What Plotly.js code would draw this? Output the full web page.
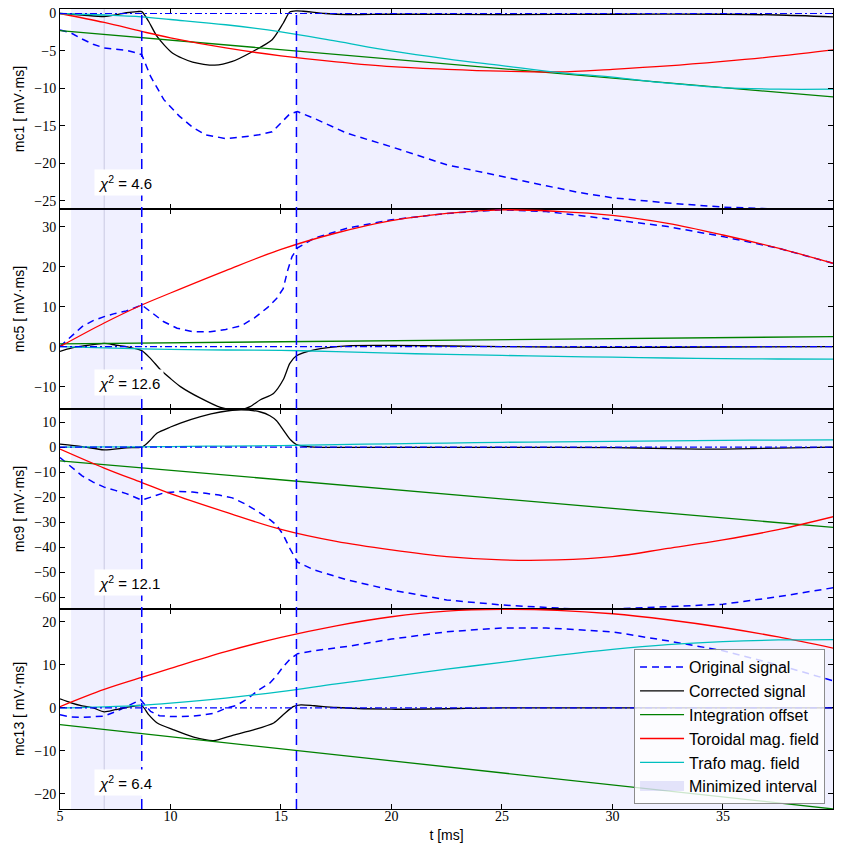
<!DOCTYPE html>
<html><head><meta charset="utf-8">
<script src="https://cdn.plot.ly/plotly-3.0.1.min.js"></script>
<style>html,body{margin:0;padding:0;background:#fff}</style>
</head><body><div id="chart" style="width:844px;height:854px"></div>
<script>
// ---------- data ----------
const channels = ['mc1', 'mc5', 'mc9', 'mc13'];
const chi2 = [4.6, 12.6, 12.1, 6.4];
const intervals = [[5.5, 8.7], [15.7, 40]];
const cutTimes = [8.7, 15.7];
const refTime = 7;
const seriesNames = ['Original signal', 'Corrected signal', 'Integration offset', 'Toroidal mag. field', 'Trafo mag. field'];
const intervalName = 'Minimized interval';

const tSmooth = [5, 7, 8.7, 10, 12.5, 15, 17.5, 20, 22.5, 25, 27.5, 30, 32.5, 35, 37.5, 40];
const tOffset = [5, 40];

// mc1
const mc1_orig_t = [5, 5.5, 6, 6.5, 7, 7.5, 8, 8.5, 8.7, 9.1, 9.7, 10.4, 11, 11.6, 12.5, 13.2, 14, 14.6, 15, 15.4, 15.75, 16.5, 18, 20, 22.5, 25, 27, 28.5, 30, 32.5, 35, 37.5, 40];
const mc1_orig = [-2.2, -2.6, -3.4, -4.1, -4.6, -4.7, -4.9, -5.3, -5.5, -8.4, -11.5, -13.7, -15.2, -16.2, -16.7, -16.5, -16.2, -15.8, -14.6, -13.4, -13.1, -14.0, -16.0, -17.8, -20.2, -21.8, -23.0, -23.9, -24.6, -25.3, -25.85, -26.1, -26.4];
const mc1_corr_t = [5, 6, 7, 7.5, 8, 8.5, 8.7, 9, 9.4, 10.1, 11, 12, 12.8, 13.7, 14.6, 15.1, 15.4, 15.7, 16, 17, 18, 20, 25, 30, 35, 37.5, 40];
const mc1_corr = [0, -0.2, -0.4, -0.2, 0.1, 0.25, 0.25, -1.0, -3.1, -5.3, -6.5, -6.9, -6.4, -5.1, -3.5, -1.3, 0.2, 0.35, 0.3, 0.0, -0.15, -0.1, -0.15, -0.1, -0.1, -0.2, -0.45];
const mc1_offset = [-2.3, -11.15];
const mc1_tor = [0, -1.2, -2.4, -3.25, -4.6, -5.65, -6.45, -7.1, -7.45, -7.7, -7.8, -7.45, -7.0, -6.4, -5.7, -4.85];
const mc1_trafo = [0, -0.2, -0.45, -0.8, -1.5, -2.45, -3.7, -5.0, -6.05, -6.95, -7.85, -8.5, -9.3, -9.9, -10.1, -10.1];

// mc5
const mc5_orig_t = [5, 5.5, 6, 6.5, 7, 7.5, 8, 8.7, 9.2, 9.7, 10.3, 11, 11.8, 12.5, 13.2, 13.8, 14.4, 14.8, 15.1, 15.3, 15.5, 15.75, 16.5, 18, 20, 22.5, 25, 27, 28.5, 30, 32.5, 35, 37.5, 40];
const mc5_orig = [0, 2.5, 5.0, 6.5, 7.5, 8.3, 8.9, 10.4, 8.2, 6.2, 4.6, 3.75, 3.7, 4.3, 5.2, 7.2, 9.8, 12, 14.5, 19, 22.5, 24.7, 27.1, 29.6, 31.7, 33.3, 34.2, 33.75, 32.8, 31.8, 30.0, 27.5, 24.6, 20.8];
const mc5_corr_t = [5, 5.5, 6, 7, 7.5, 8, 8.7, 9.1, 9.55, 10, 10.45, 11.36, 12.26, 12.8, 13.2, 13.6, 14.07, 14.66, 15.1, 15.4, 15.7, 16.5, 18, 20, 25, 30, 35, 40];
const mc5_corr = [-1.2, -0.4, 0.1, 0.8, 0.4, 0.0, -1.0, -3.0, -5.8, -8.0, -10.0, -12.9, -15.2, -15.8, -15.8, -15.0, -13.3, -11.7, -8.3, -4.2, -2.3, -0.8, 0.2, 0.3, 0.0, -0.2, -0.1, 0.0];
const mc5_offset = [0.7, 2.5];
const mc5_tor = [0, 5.9, 10.4, 13.4, 19.0, 24.3, 28.4, 31.5, 33.3, 34.2, 33.8, 32.8, 30.8, 27.9, 24.6, 20.8];
const mc5_trafo = [0, -0.3, -0.55, -0.7, -0.85, -0.95, -1.25, -1.65, -1.95, -2.2, -2.45, -2.65, -2.85, -3.0, -3.1, -3.15];

// mc9
const mc9_orig_t = [5, 5.5, 6, 6.5, 7, 7.5, 8, 8.7, 9.2, 9.7, 10.4, 11, 11.6, 12.2, 12.8, 13.4, 14, 14.5, 14.8, 15.1, 15.4, 15.75, 16.5, 18, 20, 22.5, 25, 27, 28.5, 30, 32.5, 35, 37.5, 40];
const mc9_orig = [-4.2, -7.8, -11.5, -14, -16, -17.3, -18.6, -21.2, -19.6, -18.3, -17.8, -18.0, -18.5, -19.2, -20.3, -22.8, -26.0, -29.0, -31.2, -35.0, -40.5, -46.0, -49.1, -53.1, -57.1, -61.1, -63.1, -64.2, -64.8, -64.7, -63.8, -62.8, -59.8, -56.2];
const mc9_corr_t = [5, 6, 7, 8, 8.7, 9.0, 9.4, 10, 10.45, 11.36, 12.26, 13.2, 14.07, 14.5, 14.8, 15.1, 15.43, 15.7, 16.5, 20, 25, 30, 32.5, 35, 37.5, 40];
const mc9_corr = [1.2, 0.2, -1.1, -0.3, 0.0, 2.0, 5.6, 8.0, 9.6, 12.2, 14.0, 14.9, 14.0, 12.5, 10.5, 6.9, 2.9, 1.0, 0.0, -0.1, -0.1, -0.2, -0.6, -0.8, -0.4, 0.0];
const mc9_offset = [-5.5, -32.1];
const mc9_tor = [-0.8, -8.4, -14.2, -18.6, -26.0, -32.9, -37.7, -41.1, -43.8, -45.1, -45.1, -43.8, -40.5, -37.1, -33.0, -27.8];
const mc9_trafo = [0, 0.05, 0.1, 0.2, 0.4, 0.6, 0.95, 1.3, 1.6, 1.9, 2.1, 2.3, 2.5, 2.65, 2.8, 2.9];

// mc13
const mc13_orig_t = [5, 5.5, 6, 6.5, 7, 7.5, 8, 8.4, 8.65, 8.8, 9.1, 9.5, 10, 10.5, 11, 11.5, 12, 12.5, 13, 13.5, 14, 14.5, 14.8, 15.1, 15.4, 15.75, 16.5, 18, 20, 22.5, 25, 27, 30, 32.5, 35, 37.5, 40];
const mc13_orig = [-1.6, -2.1, -2.2, -2.1, -1.9, -0.9, 0.3, 1.2, 1.9, 1.0, -0.8, -1.8, -2.0, -2.0, -1.9, -1.6, -1.2, -0.1, 0.6, 2.2, 4.2, 5.8, 7.5, 9.6, 11.3, 12.6, 13.3, 14.3, 16.0, 17.7, 18.6, 18.6, 17.7, 15.6, 13.3, 10.0, 6.3];
const mc13_corr_t = [5, 5.5, 6, 6.5, 7, 7.5, 8, 8.7, 9.0, 9.4, 10.14, 11.05, 11.95, 12.85, 13.76, 14.67, 15.1, 15.55, 15.9, 16.5, 17.5, 20, 25, 30, 35, 40];
const mc13_corr = [2.1, 1.2, 0.5, 0, -0.9, -0.4, 0.1, 0.5, -1.5, -3.5, -5.1, -6.8, -7.6, -6.3, -5.1, -3.5, -1.6, 0.3, 0.7, 0.5, 0.1, -0.3, 0.0, 0.0, 0.0, 0.0];
const mc13_offset = [-3.9, -23.5];
const mc13_tor = [0.3, 4.3, 7.1, 9.2, 13.1, 16.4, 19.1, 21.2, 22.5, 22.9, 22.7, 21.9, 20.5, 18.7, 16.5, 13.9];
const mc13_trafo = [0, 0.25, 0.6, 1.1, 2.3, 3.8, 5.6, 7.3, 9.0, 10.6, 12.2, 13.6, 14.7, 15.4, 15.8, 15.9];

const yRanges = [[-26.1, 0.6], [-15.6, 34.4], [-64.7, 15.2], [-23.5, 23.0]];
const yTickVals = [[-25, -20, -15, -10, -5, 0], [-10, 0, 10, 20, 30], [-60, -50, -40, -30, -20, -10, 0, 10], [-20, -10, 0, 10, 20]];

// ---------- build ----------
const panels = [
  {orig_t: mc1_orig_t, orig: mc1_orig, corr_t: mc1_corr_t, corr: mc1_corr, offset: mc1_offset, tor: mc1_tor, trafo: mc1_trafo},
  {orig_t: mc5_orig_t, orig: mc5_orig, corr_t: mc5_corr_t, corr: mc5_corr, offset: mc5_offset, tor: mc5_tor, trafo: mc5_trafo},
  {orig_t: mc9_orig_t, orig: mc9_orig, corr_t: mc9_corr_t, corr: mc9_corr, offset: mc9_offset, tor: mc9_tor, trafo: mc9_trafo},
  {orig_t: mc13_orig_t, orig: mc13_orig, corr_t: mc13_corr_t, corr: mc13_corr, offset: mc13_offset, tor: mc13_tor, trafo: mc13_trafo}
];

const colors = ['#0000ff', '#000000', '#008000', '#ff0000', '#00bfbf'];
const serif = 'Liberation Serif, Times New Roman, serif';
const sans = 'Liberation Sans, Arial, sans-serif';
const traces = [];
const shapes = [];
const annotations = [];
const layout = {
  width: 844, height: 854,
  margin: {l: 60, r: 11, t: 9, b: 45},
  paper_bgcolor: '#ffffff',
  plot_bgcolor: 'rgba(0,0,0,0)',
  showlegend: true,
  legend: {
    x: 0.9897, xanchor: 'right', y: 0.006, yanchor: 'bottom',
    bgcolor: 'rgba(255,255,255,0.8)', bordercolor: '#8c8c8c', borderwidth: 1,
    font: {family: sans, size: 16, color: '#000'},
    traceorder: 'grouped', tracegroupgap: 0, itemwidth: 44
  },
  shapes: shapes, annotations: annotations,
  font: {family: sans, color: '#000'}
};

const domains = [[0.75, 1], [0.5, 0.75], [0.25, 0.5], [0, 0.25]];
panels.forEach((p, k) => {
  const xa = k === 0 ? 'x' : 'x' + (k + 1);
  const ya = k === 0 ? 'y' : 'y' + (k + 1);
  const xKey = k === 0 ? 'xaxis' : 'xaxis' + (k + 1);
  const yKey = k === 0 ? 'yaxis' : 'yaxis' + (k + 1);
  const show = k === 0;
  const common = {xaxis: xa, yaxis: ya, mode: 'lines', hoverinfo: 'skip'};

  // minimized interval shading (drawn first, below the lines)
  const sx = [], sy = [];
  intervals.forEach((iv, i) => {
    if (i > 0) { sx.push(null); sy.push(null); }
    sx.push(iv[0], iv[1], iv[1], iv[0], iv[0]);
    sy.push(yRanges[k][0], yRanges[k][0], yRanges[k][1], yRanges[k][1], yRanges[k][0]);
  });
  traces.push(Object.assign({x: sx, y: sy, name: intervalName, legendgroup: 'g5', showlegend: false,
    fill: 'toself', fillcolor: 'rgba(0,0,255,0.06)', line: {width: 0, color: 'rgba(0,0,0,0)'}}, common));

  traces.push(Object.assign({x: p.orig_t, y: p.orig, name: seriesNames[0], legendgroup: 'g0', legendrank: 1, showlegend: show,
    line: {color: colors[0], width: 1.5, dash: '7px,5px'}}, common));
  traces.push(Object.assign({x: p.corr_t, y: p.corr, name: seriesNames[1], legendgroup: 'g1', legendrank: 2, showlegend: show,
    line: {color: colors[1], width: 1.3, shape: 'spline', smoothing: 0.7}}, common));
  traces.push(Object.assign({x: tOffset, y: p.offset, name: seriesNames[2], legendgroup: 'g2', legendrank: 3, showlegend: show,
    line: {color: colors[2], width: 1.3}}, common));
  traces.push(Object.assign({x: tSmooth, y: p.tor, name: seriesNames[3], legendgroup: 'g3', legendrank: 4, showlegend: show,
    line: {color: colors[3], width: 1.3, shape: 'spline'}}, common));
  traces.push(Object.assign({x: tSmooth, y: p.trafo, name: seriesNames[4], legendgroup: 'g4', legendrank: 5, showlegend: show,
    line: {color: colors[4], width: 1.3, shape: 'spline'}}, common));

  layout[xKey] = {
    domain: [0, 1], anchor: ya, range: [5, 39.98],
    tickvals: [5, 10, 15, 20, 25, 30, 35], ticks: 'inside', ticklen: 5, tickcolor: '#000',
    showline: true, linecolor: '#000', linewidth: 1, mirror: 'allticks',
    showgrid: false, zeroline: false, showticklabels: k === 3,
    tickfont: {family: serif, size: 14, color: '#000'}
  };
  if (k !== 3) layout[xKey].matches = 'x4';
  if (k === 3) {
    layout[xKey].ticklabelstandoff = -6;
    layout[xKey].title = {text: 't [ms]', standoff: 7, font: {family: sans, size: 14, color: '#000'}};
  }
  layout[yKey] = {
    domain: domains[k], anchor: xa, range: yRanges[k], tickvals: yTickVals[k],
    ticks: 'inside', ticklen: 5, tickcolor: '#000',
    showline: true, linecolor: '#000', linewidth: 1, mirror: 'allticks',
    showgrid: false, zeroline: false, automargin: false,
    tickfont: {family: serif, size: 14, color: '#000'},
    title: {text: channels[k] + ' [ mV·ms]', standoff: 6, font: {family: sans, size: 14, color: '#000'}}
  };

  // zero reference line
  shapes.push({type: 'line', xref: xa + ' domain', x0: 0, x1: 1, yref: ya, y0: 0, y1: 0,
    line: {color: '#0000ff', width: 1.2, dash: '7px,3px,2px,3px'}, layer: 'above'});

  annotations.push({xref: xa, x: 6.55, xanchor: 'left', yref: ya + ' domain', y: 0.135, yanchor: 'middle',
    text: '<i>χ</i><sup>2</sup> = ' + chi2[k].toFixed(1), showarrow: false, bgcolor: '#ffffff', borderpad: 3,
    font: {family: sans, size: 15, color: '#000'}});
});

// legend entry for the minimized interval (patch-like icon)
traces.push({x: [null], y: [null], xaxis: 'x4', yaxis: 'y4', mode: 'lines', hoverinfo: 'skip',
  name: intervalName, legendgroup: 'g5', legendrank: 6, showlegend: true,
  line: {color: 'rgba(60,60,220,0.13)', width: 12}});

// reference time line
shapes.push({type: 'line', xref: 'x4', x0: refTime, x1: refTime, yref: 'paper', y0: 0, y1: 1,
  line: {color: 'rgba(140,140,170,0.35)', width: 1}, layer: 'below'});
// cut lines
cutTimes.forEach(c => {
  shapes.push({type: 'line', xref: 'x4', x0: c, x1: c, yref: 'paper', y0: 0, y1: 1,
    line: {color: '#0000ff', width: 1.5, dash: '10px,6px'}, layer: 'above'});
});

Plotly.newPlot('chart', traces, layout, {displayModeBar: false, staticPlot: true});
</script>
</body></html>
